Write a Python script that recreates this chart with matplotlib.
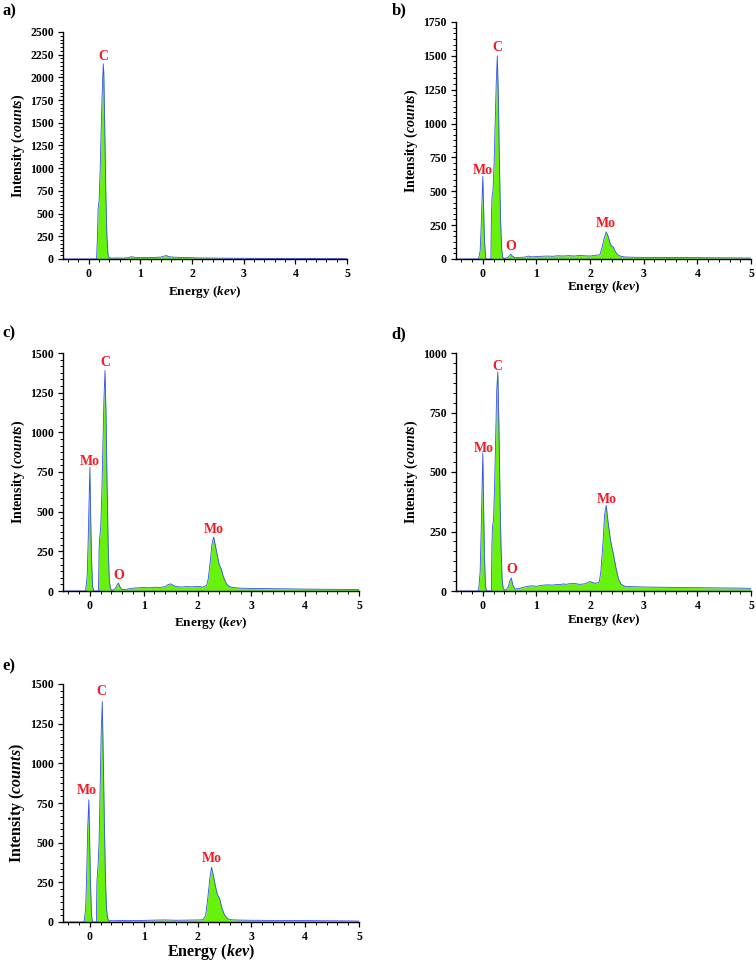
import matplotlib
matplotlib.use("Agg")
import matplotlib.pyplot as plt
from matplotlib.ticker import MultipleLocator, AutoMinorLocator

plt.rcParams['font.family'] = ['Liberation Serif', 'DejaVu Serif']
plt.rcParams['font.weight'] = 'bold'
plt.rcParams['mathtext.fontset'] = 'custom'
plt.rcParams['mathtext.it'] = 'Liberation Serif:italic:bold'
plt.rcParams['mathtext.rm'] = 'Liberation Serif:bold'
plt.rcParams['mathtext.bf'] = 'Liberation Serif:bold'

# ---------------- data (energy in keV, intensity in counts) ----------------
a_energy = [-0.5, 0.15, 0.17, 0.18, 0.19, 0.20, 0.22, 0.24, 0.26, 0.28, 0.29, 0.31, 0.33, 0.35,
            0.37, 0.39, 0.45, 0.55, 0.65, 0.75, 0.82, 0.86, 0.92, 1.0, 1.1, 1.2, 1.3, 1.4, 1.46,
            1.5, 1.55, 1.65, 1.8, 1.95, 2.1, 2.3, 2.6, 3.0, 3.5, 4.0, 4.5, 5.0]
a_counts = [0, 0, 300, 560, 600, 650, 1000, 1450, 1850, 2150, 2050, 1400, 700, 250,
            60, 15, 10, 12, 10, 14, 25, 22, 16, 15, 17, 16, 18, 22, 32,
            38, 26, 20, 17, 15, 12, 11, 9, 8, 6, 5, 4, 3]

b_energy = [-0.5, -0.08, -0.05, -0.03, -0.01, 0.0, 0.01, 0.03, 0.05, 0.06,
            0.15, 0.16, 0.17, 0.19, 0.21, 0.23, 0.25, 0.27, 0.29, 0.31,
            0.33, 0.35, 0.37, 0.40, 0.45, 0.49, 0.52, 0.55, 0.6, 0.7,
            0.8, 0.85, 0.9, 1.0, 1.1, 1.2, 1.3, 1.4, 1.5, 1.6,
            1.7, 1.8, 1.9, 2.0, 2.1, 2.18, 2.22, 2.26, 2.3, 2.33,
            2.37, 2.40, 2.43, 2.47, 2.52, 2.58, 2.65, 2.8, 3.0, 3.3,
            3.6, 4.0, 4.4, 4.8, 5.0]
b_counts = [0, 0, 60, 250, 500, 610, 450, 150, 20, 0,
            0, 300, 450, 510, 700, 1000, 1300, 1500, 1200, 700,
            300, 80, 15, 5, 8, 20, 35, 22, 10, 12,
            15, 22, 16, 18, 20, 22, 20, 24, 22, 25,
            22, 26, 24, 22, 28, 30, 80, 150, 200, 175,
            120, 95, 90, 55, 30, 20, 15, 13, 12, 12,
            11, 10, 9, 8, 7]

c_energy = [-0.5, -0.08, -0.05, -0.03, -0.01, 0.0, 0.01, 0.03, 0.05, 0.07,
            0.16, 0.17, 0.18, 0.20, 0.22, 0.24, 0.26, 0.28, 0.30, 0.32,
            0.34, 0.36, 0.38, 0.42, 0.47, 0.50, 0.53, 0.56, 0.6, 0.7,
            0.8, 0.9, 1.0, 1.1, 1.2, 1.3, 1.4, 1.45, 1.5, 1.55,
            1.6, 1.7, 1.8, 1.9, 2.0, 2.1, 2.17, 2.2, 2.24, 2.27,
            2.3, 2.33, 2.37, 2.40, 2.44, 2.48, 2.53, 2.58, 2.65, 2.8,
            3.0, 3.3, 3.6, 4.0, 4.4, 4.8, 5.0]
c_counts = [0, 0, 100, 350, 650, 780, 550, 200, 30, 0,
            0, 250, 330, 400, 600, 900, 1200, 1390, 1100, 650,
            280, 70, 15, 5, 15, 35, 50, 25, 8, 12,
            18, 20, 22, 20, 24, 22, 28, 40, 45, 35,
            28, 25, 28, 26, 30, 25, 35, 80, 200, 300,
            340, 290, 220, 170, 140, 90, 50, 30, 22, 18,
            16, 15, 14, 12, 11, 10, 9]

d_energy = c_energy
d_counts = [0, 0, 80, 260, 480, 580, 420, 150, 20, 0,
            0, 200, 270, 300, 450, 650, 850, 920, 700, 400,
            180, 50, 10, 3, 15, 40, 55, 25, 8, 12,
            18, 22, 20, 24, 26, 25, 28, 27, 30, 28,
            30, 32, 28, 30, 40, 32, 38, 80, 200, 320,
            360, 300, 230, 190, 150, 100, 50, 28, 20, 18,
            17, 16, 15, 14, 13, 12, 11]

e_energy = [-0.5, -0.11, -0.08, -0.06, -0.04, -0.02, -0.01, 0.01, 0.03, 0.05,
            0.12, 0.13, 0.15, 0.17, 0.19, 0.21, 0.23, 0.25, 0.27, 0.29,
            0.31, 0.33, 0.36, 0.45, 0.6, 0.8, 1.0, 1.2, 1.4, 1.6,
            1.8, 2.0, 2.1, 2.15, 2.19, 2.23, 2.26, 2.29, 2.33, 2.37,
            2.41, 2.45, 2.5, 2.56, 2.63, 2.8, 3.0, 3.3, 3.6, 4.0,
            4.4, 4.8, 5.0]
e_counts = [0, 0, 80, 300, 600, 770, 600, 250, 40, 0,
            0, 250, 350, 500, 850, 1200, 1390, 1000, 600, 250,
            80, 20, 8, 8, 10, 9, 10, 12, 13, 11,
            12, 13, 14, 40, 150, 280, 345, 300, 230, 170,
            150, 90, 45, 20, 14, 12, 11, 10, 9, 9,
            8, 7, 6]

# peak annotations: (text, energy, counts)
a_peaks = [("C", 0.28, 2230)]
b_peaks = [("Mo", 0.0, 650), ("C", 0.27, 1560), ("O", 0.53, 90), ("Mo", 2.3, 260)]
c_peaks = [("Mo", 0.0, 815), ("C", 0.28, 1440), ("O", 0.54, 95), ("Mo", 2.3, 385)]
d_peaks = [("Mo", 0.02, 600), ("C", 0.28, 945), ("O", 0.54, 92), ("Mo", 2.31, 386)]
e_peaks = [("Mo", -0.05, 830), ("C", 0.22, 1450), ("Mo", 2.27, 403)]

ymaxes = [2500, 1750, 1500, 1000, 1500]
panel_letters = ["a)", "b)", "c)", "d)", "e)"]

W, H = 756, 961
fig = plt.figure(figsize=(W / 100, H / 100), dpi=100)

def rect(l, r, t, b):
    return [l / W, 1 - b / H, (r - l) / W, (b - t) / H]

rects = [rect(63, 347, 32, 259), rect(456, 751, 22, 259), rect(63, 359, 353, 591),
         rect(456, 751, 353, 591), rect(63, 359, 684, 922)]
xlabel_y = [292, 287, 623, 620, 952]
letter_pos = [(9, 11), (399, 10), (9, 333), (399, 334), (9, 666)]

datasets = [(a_energy, a_counts, a_peaks), (b_energy, b_counts, b_peaks),
            (c_energy, c_counts, c_peaks), (d_energy, d_counts, d_peaks),
            (e_energy, e_counts, e_peaks)]

GREEN = "#66f20a"
BLUE = "#3a4df0"
RED = "#ee1c25"

for i, ((en, ct, peaks), r) in enumerate(zip(datasets, rects)):
    ax = fig.add_axes(r)
    ax.fill_between(en, 0, ct, color=GREEN, lw=0)
    ax.plot(en, ct, color=BLUE, lw=0.6)
    ax.set_xlim(-0.5, 5)
    ax.set_ylim(0, ymaxes[i])
    ax.xaxis.set_major_locator(MultipleLocator(1))
    ax.xaxis.set_minor_locator(AutoMinorLocator(5))
    ax.yaxis.set_major_locator(MultipleLocator(250))
    ax.yaxis.set_minor_locator(AutoMinorLocator(6))
    for s in ("top", "right"):
        ax.spines[s].set_visible(False)
    for s in ("left", "bottom"):
        ax.spines[s].set_linewidth(1.0)
    ax.tick_params(which="major", direction="out", length=3.5, width=0.9, labelsize=8.5, pad=3)
    ax.tick_params(which="minor", direction="out", length=2, width=0.7)
    for lab in ax.get_xticklabels() + ax.get_yticklabels():
        lab.set_fontweight("bold")
    big = (i == 4)
    fs = 11.5 if big else 10
    ax.set_ylabel(r"Intensity ($\mathit{counts}$)", fontsize=fs, fontweight="bold", labelpad=2)
    xl_y_fig = 1 - xlabel_y[i] / H
    xc = (r[0] + r[0] + r[2]) / 2
    fig.text(xc, xl_y_fig, r"Energy ($\mathit{kev}$)", ha="center", va="center",
             fontsize=(11.5 if big else 9.5), fontweight="bold")
    for txt, x, y in peaks:
        ax.text(x, y, txt, color=RED, fontsize=10, fontweight="bold", ha="center", va="center")
    lx, ly = letter_pos[i]
    fig.text(lx / W, 1 - ly / H, panel_letters[i], fontsize=12, fontweight="bold",
             ha="center", va="center")

fig.savefig("out.png", dpi=100)
